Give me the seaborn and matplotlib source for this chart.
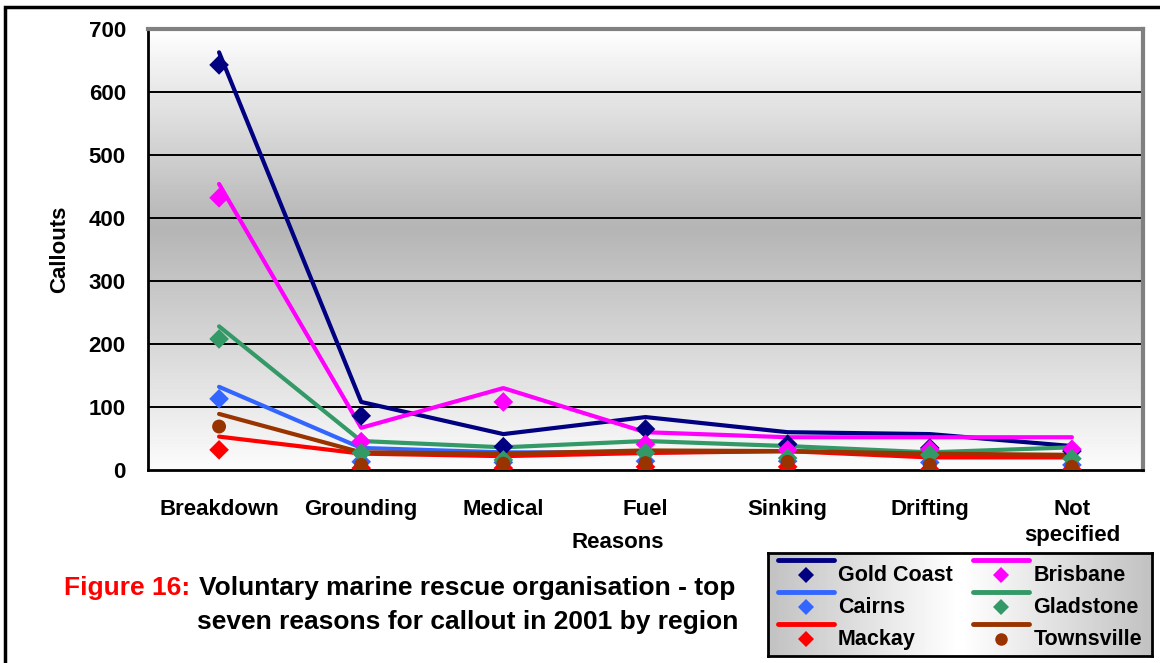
import numpy as np
import pandas as pd
import matplotlib
matplotlib.use("Agg")
import matplotlib.pyplot as plt
from matplotlib.lines import Line2D
from matplotlib.patches import Rectangle
import seaborn as sns

reasons = ["Breakdown", "Grounding", "Medical", "Fuel", "Sinking", "Drifting", "Not\nspecified"]
regions = ["Gold Coast", "Brisbane", "Cairns", "Gladstone", "Mackay", "Townsville"]

# line series (as drawn)
gold_coast_line = [663, 108, 57, 84, 60, 57, 38]
brisbane_line = [454, 67, 130, 60, 52, 52, 52]
cairns_line = [132, 35, 28, 28, 30, 25, 22]
gladstone_line = [228, 46, 36, 46, 38, 28, 36]
mackay_line = [53, 26, 22, 27, 30, 20, 20]
townsville_line = [89, 28, 26, 31, 30, 26, 24]

# marker series
gold_coast_pts = [643, 86, 37, 65, 41, 35, 30]
brisbane_pts = [432, 45, 108, 41, 32, 33, 33]
cairns_pts = [113, 13, 12, 14, 14, 12, 8]
gladstone_pts = [208, 27, 16, 27, 19, 24, 18]
mackay_pts = [32, 3, 3, 5, 5, 1, 1]
townsville_pts = [69, 8, 10, 11, 13, 8, 5]

colors = {"Gold Coast": "#000080", "Brisbane": "#FF00FF", "Cairns": "#3366FF",
          "Gladstone": "#339966", "Mackay": "#FF0000", "Townsville": "#993300"}
markers = {"Gold Coast": "D", "Brisbane": "D", "Cairns": "D",
           "Gladstone": "D", "Mackay": "D", "Townsville": "o"}

lines = [gold_coast_line, brisbane_line, cairns_line, gladstone_line, mackay_line, townsville_line]
pts = [gold_coast_pts, brisbane_pts, cairns_pts, gladstone_pts, mackay_pts, townsville_pts]

line_df = pd.DataFrame([(r, reg, v) for reg, vals in zip(regions, lines) for r, v in zip(reasons, vals)],
                       columns=["Reason", "Region", "Callouts"])
pt_df = pd.DataFrame([(r, reg, v) for reg, vals in zip(regions, pts) for r, v in zip(reasons, vals)],
                     columns=["Reason", "Region", "Callouts"])
line_df["x"] = line_df["Reason"].map({r: i for i, r in enumerate(reasons)})
pt_df["x"] = pt_df["Reason"].map({r: i for i, r in enumerate(reasons)})

sns.set_style("white")
plt.rcParams["font.family"] = ["Liberation Sans", "DejaVu Sans"]
plt.rcParams["font.weight"] = "bold"
for k in ["text.color", "axes.labelcolor", "xtick.color", "ytick.color"]:
    plt.rcParams[k] = "black"

fig = plt.figure(figsize=(11.6, 6.63), dpi=100)
ax = fig.add_axes([148 / 1160, 1 - 470 / 663, (1143 - 148) / 1160, (470 - 29) / 663])

# gradient plot background
grad = np.concatenate([np.linspace(0.995, 0.71, 45), np.linspace(0.71, 0.985, 55)])
ax.imshow(grad.reshape(-1, 1), cmap="gray", vmin=0, vmax=1, aspect="auto",
          extent=[-0.5, 6.5, 0, 700], zorder=0, interpolation="bicubic")

for v in range(100, 700, 100):
    ax.axhline(v, color="black", lw=1.4, zorder=1)

sns.lineplot(data=line_df, x="x", y="Callouts", hue="Region", palette=colors,
             hue_order=regions, lw=3, legend=False, sort=False, ax=ax, zorder=3)
sns.scatterplot(data=pt_df, x="x", y="Callouts", hue="Region", style="Region",
                palette=colors, markers=markers, hue_order=regions, style_order=regions,
                s=100, edgecolor="none", legend=False, ax=ax, zorder=4)

ax.set_xlim(-0.5, 6.5)
ax.set_ylim(0, 700)
ax.set_yticks(range(0, 701, 100))
ax.set_xticks(range(len(reasons)))
ax.set_xticklabels(reasons, fontsize=16, fontweight="bold", linespacing=1.3)
ax.set_xticks(np.arange(-0.5, 7, 1), minor=True)
ax.tick_params(axis="x", which="major", length=0, pad=21)
ax.tick_params(axis="x", which="minor", length=8, width=1.5, direction="out", color="black")
ax.tick_params(axis="y", length=9, width=1.5, direction="out", color="black",
               labelsize=16, pad=7)
for lab in ax.get_yticklabels():
    lab.set_fontweight("bold")
ax.set_xlabel("Reasons", fontsize=16, fontweight="bold")
ax.xaxis.set_label_coords((618 - 148) / 995, -(542 - 470) / 441)
ax.xaxis.label.set_va("center")
ax.set_ylabel("Callouts", fontsize=16, fontweight="bold")
ax.yaxis.set_label_coords(-(148 - 60) / 995, 0.5)
ax.yaxis.label.set_va("center")
for s in ["left", "bottom"]:
    ax.spines[s].set_color("black")
    ax.spines[s].set_linewidth(2)
for s in ["top", "right"]:
    ax.spines[s].set_color("#808080")
    ax.spines[s].set_linewidth(3)

# outer frame
fig.patches.append(Rectangle((5 / 1160, -0.1), 1.2, 1 - 7 / 663 + 0.1, transform=fig.transFigure,
                             fill=False, edgecolor="black", lw=2.5))

# caption
cap1 = fig.text(735 / 1160, 1 - 588 / 663, "Voluntary marine rescue organisation - top",
                color="black", fontsize=19, fontweight="bold", va="center", ha="right")
ax.annotate("Figure 16:", xy=(0, 0.5), xycoords=cap1, xytext=(-6, 0),
            textcoords="offset points", color="#FF0000", fontsize=19,
            fontweight="bold", va="center", ha="right", annotation_clip=False)
fig.text(738 / 1160, 1 - 622 / 663, "seven reasons for callout in 2001 by region",
         color="black", fontsize=19, fontweight="bold", va="center", ha="right")

# legend box with horizontal gradient
lax = fig.add_axes([768 / 1160, 1 - 656 / 663, (1152 - 768) / 1160, (656 - 553) / 663])
hg = np.concatenate([np.linspace(0.76, 1.0, 50), np.linspace(1.0, 0.76, 50)])
lax.imshow(hg.reshape(1, -1), cmap="gray", vmin=0, vmax=1, aspect="auto",
           extent=[0, 1, 0, 1], interpolation="bicubic")
lax.set_xticks([])
lax.set_yticks([])
for s in lax.spines.values():
    s.set_color("black")
    s.set_linewidth(2)


class LineAboveMarker:
    def legend_artist(self, legend, orig_handle, fontsize, handlebox):
        x0, y0 = handlebox.xdescent, handlebox.ydescent
        w, h = handlebox.width, handlebox.height
        c = orig_handle.get_color()
        m = orig_handle.get_marker()
        ln = Line2D([x0, x0 + w], [y0 + h * 1.4] * 2, color=c, lw=3.5)
        mk = Line2D([x0 + w / 2], [y0 + h * 0.4], marker=m, color=c, ls="none",
                    markersize=8 if m == "D" else 9, markeredgewidth=0)
        handlebox.add_artist(ln)
        handlebox.add_artist(mk)
        return mk


order = ["Gold Coast", "Cairns", "Mackay", "Brisbane", "Gladstone", "Townsville"]
handles = [Line2D([], [], color=colors[r], marker=markers[r]) for r in order]
lax.legend(handles, order, handler_map={Line2D: LineAboveMarker()}, ncol=2,
           loc="center left", frameon=False, prop={"weight": "bold", "size": 15.5},
           handlelength=2.6, handletextpad=0.2, columnspacing=0.95, labelspacing=0.52,
           borderaxespad=0, borderpad=0, bbox_to_anchor=(0.025, 0.47))

fig.savefig("out.png", dpi=100)
